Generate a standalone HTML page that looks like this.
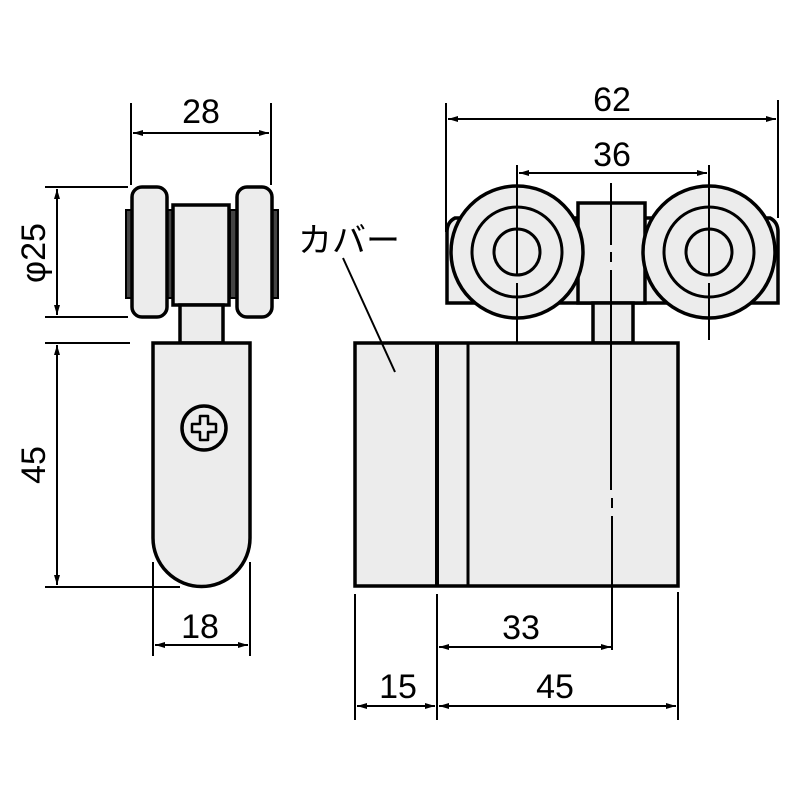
<!DOCTYPE html>
<html><head><meta charset="utf-8"><style>
html,body{margin:0;padding:0;background:#fff;width:800px;height:800px;overflow:hidden}
svg{display:block}
text{font-family:"Liberation Sans","Noto Sans CJK JP",sans-serif;fill:#000}
</style></head><body>
<svg width="800" height="800" viewBox="0 0 800 800" xmlns="http://www.w3.org/2000/svg">
<defs>
<marker id="a" viewBox="0 0 10 6" refX="10" refY="3" markerWidth="12" markerHeight="6" orient="auto-start-reverse" markerUnits="userSpaceOnUse"><path d="M0,0L10,3L0,6Z" fill="#000"/></marker>
</defs>
<g stroke="#000" fill="#ececec" stroke-width="3.5">
<rect x="126" y="210" width="7" height="88" fill="#444" stroke-width="2"/>
<rect x="166" y="210" width="7" height="88" fill="#444" stroke-width="2"/>
<rect x="230" y="210" width="7" height="88" fill="#444" stroke-width="2"/>
<rect x="271" y="210" width="7" height="88" fill="#444" stroke-width="2"/>
<rect x="132" y="187" width="35" height="130" rx="10"/>
<rect x="237" y="187" width="35" height="130" rx="10"/>
<rect x="173" y="205" width="56" height="100"/>
<rect x="180" y="305" width="43" height="38"/>
<path d="M153,343 H250 V538 A48.5,48.5 0 0 1 153,538 Z"/>
<circle cx="204" cy="428" r="22"/>
<path d="M200,416 h8 v8 h8 v8 h-8 v8 h-8 v-8 h-8 v-8 h8 Z" stroke-width="2.5" stroke-linejoin="round"/>
<path d="M447,232 Q447,222 455,218 L770,218 Q778,222 778,232 V303 H447 Z"/>
<rect x="578" y="203" width="67" height="100"/>
<rect x="593" y="303" width="40" height="40"/>
<circle cx="517" cy="252" r="66"/>
<circle cx="517" cy="252" r="45" stroke-width="3"/>
<circle cx="517" cy="252" r="23" stroke-width="3"/>
<circle cx="709" cy="252" r="66"/>
<circle cx="709" cy="252" r="45" stroke-width="3"/>
<circle cx="709" cy="252" r="23" stroke-width="3"/>
<rect x="355" y="343" width="323" height="243"/>
<line x1="437" y1="343" x2="437" y2="586" stroke-width="4"/>
<line x1="468" y1="343" x2="468" y2="586" stroke-width="3"/>
</g>
<g stroke="#000" stroke-width="2" fill="none">
<path d="M517,165 V275 M517,283 V343"/>
<path d="M709,165 V275 M709,283 V340"/>
<path d="M611,183 V245 M611,252 V262 M611,270 V490 M612,498 V508 M612,516 V650"/>
<line x1="131" y1="103" x2="131" y2="185"/>
<line x1="271" y1="103" x2="271" y2="185"/>
<line x1="133" y1="133" x2="269" y2="133" marker-start="url(#a)" marker-end="url(#a)"/>
<line x1="45" y1="187" x2="128" y2="187"/>
<line x1="45" y1="317" x2="128" y2="317"/>
<line x1="57" y1="189" x2="57" y2="315" marker-start="url(#a)" marker-end="url(#a)"/>
<line x1="45" y1="343" x2="130" y2="343"/>
<line x1="45" y1="587" x2="180" y2="587"/>
<line x1="57" y1="345" x2="57" y2="585" marker-start="url(#a)" marker-end="url(#a)"/>
<line x1="153" y1="562" x2="153" y2="656"/>
<line x1="250" y1="562" x2="250" y2="656"/>
<line x1="155" y1="645" x2="248" y2="645" marker-start="url(#a)" marker-end="url(#a)"/>
<line x1="446" y1="103" x2="446" y2="232"/>
<line x1="778" y1="100" x2="778" y2="218"/>
<line x1="448" y1="119" x2="776" y2="119" marker-start="url(#a)" marker-end="url(#a)"/>
<line x1="519" y1="173" x2="707" y2="173" marker-start="url(#a)" marker-end="url(#a)"/>
<line x1="355" y1="594" x2="355" y2="720"/>
<line x1="437" y1="594" x2="437" y2="720"/>
<line x1="678" y1="592" x2="678" y2="720"/>
<line x1="439" y1="647" x2="611" y2="647" marker-start="url(#a)" marker-end="url(#a)"/>
<line x1="357" y1="706" x2="435" y2="706" marker-start="url(#a)" marker-end="url(#a)"/>
<line x1="439" y1="706" x2="676" y2="706" marker-start="url(#a)" marker-end="url(#a)"/>
<line x1="343" y1="258" x2="395" y2="372"/>
</g>
<g font-size="34" text-anchor="middle">
<text x="201" y="123">28</text>
<text x="200" y="638">18</text>
<text x="612" y="111">62</text>
<text x="612" y="166">36</text>
<text x="521" y="639">33</text>
<text x="398" y="698">15</text>
<text x="555" y="698">45</text>
<text transform="translate(45,253) rotate(-90)">φ25</text>
<text transform="translate(45,465) rotate(-90)">45</text>
</g>
<text x="298" y="252" font-size="34">カバー</text>
</svg>
</body></html>
